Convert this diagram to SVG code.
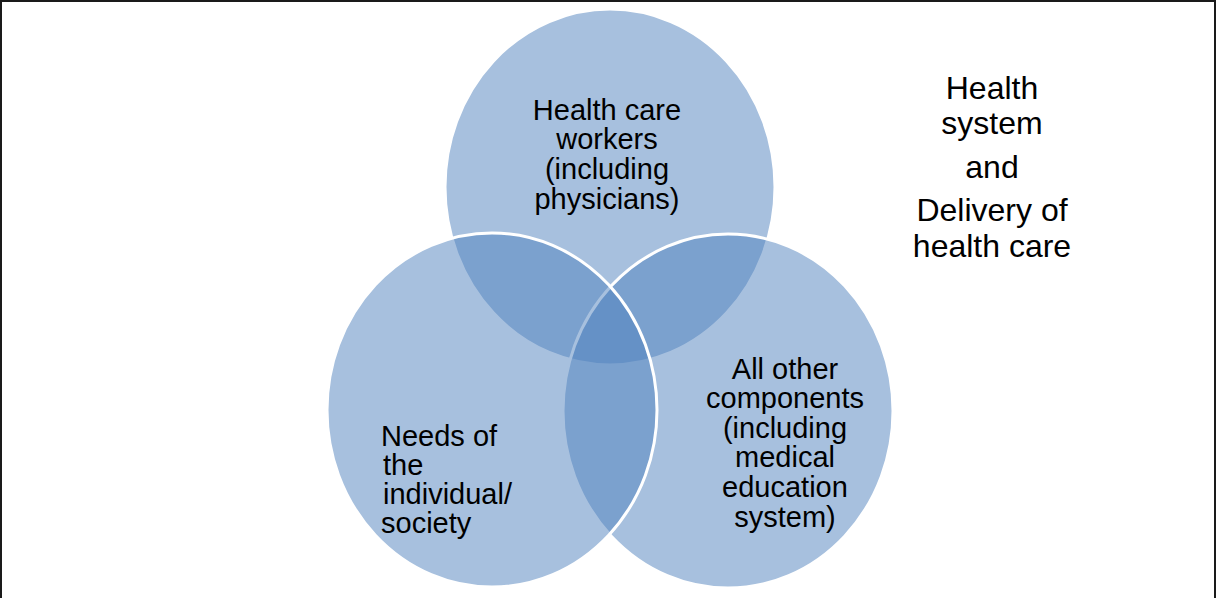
<svg xmlns="http://www.w3.org/2000/svg" width="1217" height="598" viewBox="0 0 1217 598">
<style>
.c{fill:#4F81BD;fill-opacity:0.5;stroke:#FFFFFF;stroke-width:3}
.t{font-family:"Liberation Sans",Arial,sans-serif;font-size:29px;fill:#000}
.m{text-anchor:middle}
.h{font-family:"Liberation Sans",Arial,sans-serif;font-size:32px;fill:#000;text-anchor:middle}
</style>
<rect x="0" y="0" width="1217" height="598" fill="#FFFFFF"/>
<rect id="frame" x="1" y="1" width="1214" height="610" fill="none" stroke="#1a1a1a" stroke-width="2"/>
<g id="connectors"></g>
<g id="top">
<ellipse class="c" cx="610" cy="187" rx="165" ry="178"/>
</g>
<g id="right">
<ellipse class="c" cx="728" cy="411" rx="165" ry="177"/>
</g>
<g id="left">
<ellipse class="c" cx="492" cy="410" rx="165" ry="177"/>
</g>
<g id="top-label">
<text class="t m" x="607" y="120">Health care</text>
<text class="t m" x="607" y="149">workers</text>
<text class="t m" x="607" y="179">(including</text>
<text class="t m" x="607" y="209">physicians)</text>
</g>
<g id="left-label">
<text class="t" x="381" y="446">Needs of</text>
<text class="t" x="383" y="475">the</text>
<text class="t" x="383" y="504">individual/</text>
<text class="t" x="381" y="533">society</text>
</g>
<g id="right-label">
<text class="t m" x="785" y="379">All other</text>
<text class="t m" x="785" y="408">components</text>
<text class="t m" x="785" y="438">(including</text>
<text class="t m" x="785" y="467">medical</text>
<text class="t m" x="785" y="497">education</text>
<text class="t m" x="785" y="527">system)</text>
</g>
<g id="title">
<text class="h" x="992" y="99">Health</text>
<text class="h" x="992" y="134">system</text>
<text class="h" x="992" y="178">and</text>
<text class="h" x="992" y="221">Delivery of</text>
<text class="h" x="992" y="257">health care</text>
</g>
</svg>
